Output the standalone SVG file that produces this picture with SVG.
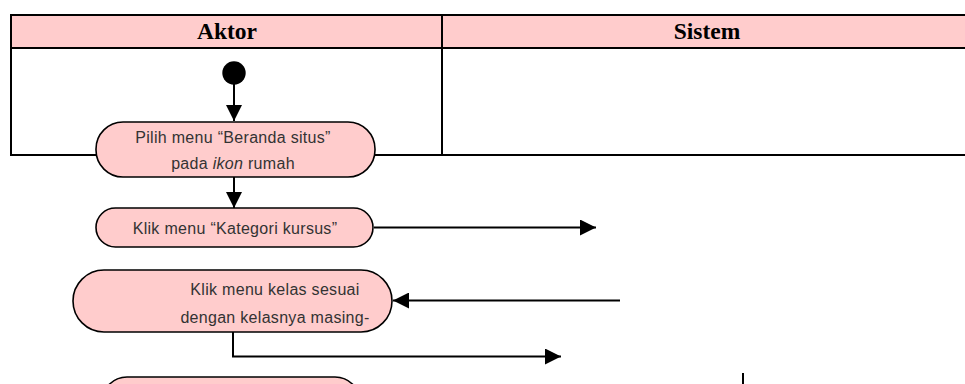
<svg xmlns="http://www.w3.org/2000/svg" width="965" height="384" viewBox="0 0 965 384">
  <style>
    .hdr { fill: #ffcccc; }
    .lane { fill: none; stroke: #000; stroke-width: 2; }
    .title { font-family: "Liberation Serif", "Times New Roman", serif; font-weight: bold; font-size: 23.5px; fill: #000; text-anchor: middle; }
    .act { fill: #ffcccc; stroke: #000; stroke-width: 1.6; }
    .lbl { font-family: "Liberation Sans", Arial, sans-serif; font-size: 16px; letter-spacing: 0.3px; fill: #333; text-anchor: middle; }
    .flow { fill: none; stroke: #000; stroke-width: 2; }
  </style>
  <defs>
    <marker id="arrow" viewBox="0 0 16 16" refX="16" refY="8" markerWidth="16" markerHeight="16" markerUnits="userSpaceOnUse" orient="auto">
      <path d="M0,0 L16,8 L0,16 Z" fill="#000"/>
    </marker>
  </defs>

  <!-- swimlane table -->
  <g id="swimlanes">
    <rect class="hdr" x="11" y="15" width="954" height="33"/>
    <line class="lane" x1="11" y1="15" x2="965" y2="15" stroke-width="1.2"/>
    <line class="lane" x1="11" y1="48" x2="965" y2="48"/>
    <line class="lane" x1="11" y1="14" x2="11" y2="156"/>
    <line class="lane" x1="442" y1="15" x2="442" y2="155"/>
    <line class="lane" x1="10" y1="155" x2="965" y2="155"/>
    <text class="title" x="227" y="39">Aktor</text>
    <text class="title" x="707" y="39">Sistem</text>
  </g>

  <!-- connectors -->
  <g id="connectors">
    <line class="flow" x1="234" y1="84" x2="234" y2="121" marker-end="url(#arrow)"/>
    <line class="flow" x1="234" y1="177" x2="234" y2="208" marker-end="url(#arrow)"/>
    <line class="flow" x1="374" y1="227.5" x2="596" y2="227.5" marker-end="url(#arrow)"/>
    <line class="flow" x1="620" y1="300.5" x2="393" y2="300.5" marker-end="url(#arrow)"/>
    <polyline class="flow" points="233,332 233,356.5 561,356.5" marker-end="url(#arrow)"/>
    <line class="flow" x1="743" y1="373" x2="743" y2="384"/>
  </g>

  <!-- start node -->
  <g id="start">
    <circle cx="234" cy="73" r="11.7" fill="#000"/>
  </g>

  <g id="act-beranda">
    <rect class="act" x="96" y="122" width="279" height="55" rx="27" ry="27"/>
    <text class="lbl" x="233" y="143">Pilih menu “Beranda situs”</text>
    <text class="lbl" x="233" y="169">pada <tspan font-style="italic">ikon</tspan> rumah</text>
  </g>

  <g id="act-kategori">
    <rect class="act" x="96" y="208" width="277" height="39" rx="19.5" ry="19.5"/>
    <text class="lbl" x="235" y="234">Klik menu “Kategori kursus”</text>
  </g>

  <g id="act-kelas">
    <rect class="act" x="73" y="270" width="319" height="62" rx="31" ry="31"/>
    <text class="lbl" x="275" y="295">Klik menu kelas sesuai</text>
    <text class="lbl" x="275" y="323">dengan kelasnya masing-</text>
  </g>

  <g id="act-next">
    <rect class="act" x="102" y="377" width="258" height="50" rx="25" ry="25"/>
  </g>
</svg>
